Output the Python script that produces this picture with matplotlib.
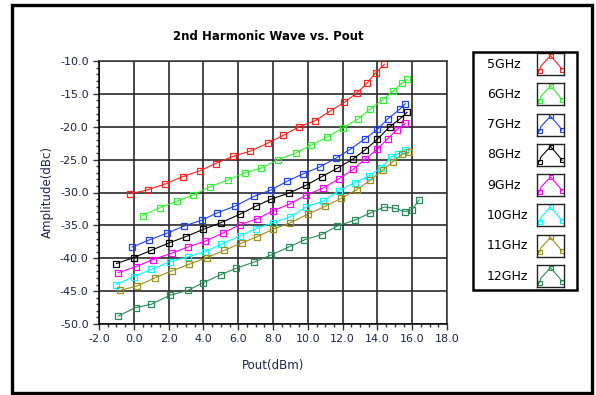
import matplotlib
matplotlib.use("Agg")
import matplotlib.pyplot as plt
from matplotlib.patches import Rectangle
from matplotlib.ticker import MultipleLocator, FormatStrFormatter

# Pout (dBm) and 2nd harmonic amplitude (dBc) per frequency
labels = ['5GHz', '6GHz', '7GHz', '8GHz', '9GHz', '10GHz', '11GHz', '12GHz']
colors = ['#FF2020', '#33EE33', '#2040F0', '#000000', '#FF00FF', '#00FFFF', '#9C8F1A', '#2A8A55']

x_5g = [-0.2, 0.8, 1.8, 2.8, 3.8, 4.7, 5.7, 6.7, 7.7, 8.6, 9.5, 10.4, 11.3, 12.1, 12.8, 13.4, 13.9, 14.4]
y_5g = [-30.2, -29.6, -28.7, -27.6, -26.7, -25.6, -24.5, -23.7, -22.5, -21.3, -20.0, -19.1, -17.6, -16.3, -14.9, -13.4, -11.8, -10.5]

x_6g = [0.5, 1.5, 2.5, 3.4, 4.4, 5.4, 6.4, 7.3, 8.3, 9.3, 10.2, 11.1, 12.0, 12.9, 13.6, 14.3, 14.9, 15.4, 15.7]
y_6g = [-33.5, -32.3, -31.3, -30.4, -29.1, -28.1, -27.0, -26.3, -25.0, -24.0, -22.8, -21.6, -20.2, -18.8, -17.3, -15.9, -14.6, -13.4, -12.8]

x_7g = [-0.1, 0.9, 1.9, 2.9, 3.9, 4.8, 5.8, 6.9, 7.9, 8.8, 9.7, 10.7, 11.6, 12.4, 13.3, 14.0, 14.6, 15.3, 15.6]
y_7g = [-38.3, -37.2, -36.2, -35.1, -34.2, -33.1, -32.1, -30.6, -29.6, -28.3, -27.2, -26.1, -24.8, -23.5, -21.8, -20.4, -18.8, -17.3, -16.5]

x_8g = [-1.0, 0.0, 1.0, 2.0, 3.0, 4.0, 5.0, 6.1, 7.0, 7.9, 8.9, 9.9, 10.8, 11.7, 12.6, 13.3, 14.0, 14.7, 15.3, 15.7]
y_8g = [-40.8, -39.9, -38.8, -37.7, -36.7, -35.6, -34.6, -33.3, -32.1, -31.0, -30.1, -28.9, -27.6, -26.3, -24.9, -23.5, -21.9, -20.0, -18.8, -17.8]

x_9g = [-0.9, 0.1, 1.1, 2.2, 3.1, 4.1, 5.1, 6.1, 7.1, 8.0, 9.0, 9.9, 10.9, 11.8, 12.6, 13.3, 14.0, 14.6, 15.1, 15.6]
y_9g = [-42.2, -41.3, -40.2, -39.2, -38.3, -37.4, -36.2, -34.9, -34.0, -32.8, -31.7, -30.4, -29.3, -27.9, -26.5, -24.9, -23.4, -21.8, -20.5, -19.5]

x_10g = [-1.0, 0.0, 1.0, 2.1, 3.1, 4.1, 5.0, 6.1, 7.0, 8.0, 9.0, 9.9, 10.9, 11.8, 12.7, 13.5, 14.2, 14.8, 15.2, 15.6]
y_10g = [-44.0, -42.8, -41.7, -40.5, -39.8, -39.0, -37.9, -36.6, -35.5, -34.6, -33.7, -32.2, -31.3, -29.7, -28.5, -27.5, -26.3, -24.6, -24.1, -23.5]

x_11g = [-0.8, 0.2, 1.2, 2.2, 3.2, 4.2, 5.2, 6.2, 7.1, 8.0, 9.0, 10.0, 11.0, 11.9, 12.8, 13.6, 14.3, 14.9, 15.4, 15.8]
y_11g = [-44.9, -44.2, -43.0, -41.9, -40.9, -39.9, -38.8, -37.7, -36.7, -35.6, -34.6, -33.3, -32.1, -30.9, -29.6, -28.1, -26.6, -25.3, -24.2, -23.9]

x_12g = [-0.9, 0.1, 1.0, 2.1, 3.1, 4.0, 5.0, 5.9, 6.9, 7.9, 8.9, 9.8, 10.8, 11.7, 12.7, 13.6, 14.4, 15.0, 15.6, 16.0, 16.4]
y_12g = [-48.8, -47.5, -47.0, -45.6, -44.9, -43.7, -42.5, -41.5, -40.6, -39.5, -38.3, -37.2, -36.4, -35.1, -34.2, -33.1, -32.2, -32.4, -32.9, -32.6, -31.1]

xs = [x_5g, x_6g, x_7g, x_8g, x_9g, x_10g, x_11g, x_12g]
ys = [y_5g, y_6g, y_7g, y_8g, y_9g, y_10g, y_11g, y_12g]

W, H = 596, 395
fig = plt.figure(figsize=(W / 100, H / 100), dpi=100)
fig.patch.set_facecolor('white')

# main plot area, placed in pixels
ax = fig.add_axes([99 / W, 1 - 324 / H, 348 / W, 263 / H])
for x, y, c in zip(xs, ys, colors):
    ax.plot(x, y, color=c, lw=0.8, marker='s', ms=3.8, mfc='none', mec=c, mew=0.9)

ax.set_xlim(-2, 18)
ax.set_ylim(-50, -10)
ax.xaxis.set_major_locator(MultipleLocator(2))
ax.xaxis.set_minor_locator(MultipleLocator(0.5))
ax.yaxis.set_major_locator(MultipleLocator(5))
ax.yaxis.set_minor_locator(MultipleLocator(1))
ax.xaxis.set_major_formatter(FormatStrFormatter('%.1f'))
ax.yaxis.set_major_formatter(FormatStrFormatter('%.1f'))
ax.grid(True, which='major', color='#2a2a2a', lw=1.2)
ax.tick_params(which='major', direction='out', length=4, width=1, colors='#333333',
               labelcolor='#1c2448', labelsize=8)
ax.tick_params(which='minor', direction='out', length=2.5, width=1, colors='#333333')
for s in ax.spines.values():
    s.set_color('#333333')
    s.set_linewidth(1.1)
ax.spines['left'].set_color('black')
ax.spines['bottom'].set_color('black')

fig.text(268 / W, 1 - 37 / H, '2nd Harmonic Wave vs. Pout', ha='center', va='center',
         fontsize=8.5, fontweight='bold', color='black')
fig.text(273 / W, 1 - 365 / H, 'Pout(dBm)', ha='center', va='center', fontsize=8.5, color='#1c2448')
fig.text(47 / W, 1 - 192 / H, 'Amplitude(dBc)', ha='center', va='center', rotation=90,
         fontsize=8.5, color='#1c2448')

# outer frame of the picture
fig.patches.append(Rectangle((12 / W, 2 / H), 580 / W, 388 / H, transform=fig.transFigure,
                             fill=False, ec='black', lw=2.4))

# legend panel
fig.patches.append(Rectangle((473 / W, 1 - 290 / H), 104 / W, 238 / H, transform=fig.transFigure,
                             fill=False, ec='black', lw=1.8))
for i, (lab, c) in enumerate(zip(labels, colors)):
    yc = 64 + 30.3 * i
    fig.text(487 / W, 1 - yc / H, lab, ha='left', va='center', fontsize=9, color='black')
    box = fig.add_axes([537 / W, 1 - (yc + 11) / H, 27 / W, 22 / H])
    box.plot([0.1, 0.14, 0.5, 0.84, 0.92], [0.2, 0.4, 0.88, 0.4, 0.25], color=c, lw=0.8,
             marker='s', ms=2.6, mfc='none', mec=c, mew=0.8, markevery=[0, 2, 4])
    box.set_xlim(0, 1)
    box.set_ylim(0, 1)
    box.set_xticks([])
    box.set_yticks([])
    for s in box.spines.values():
        s.set_color('#222222')
        s.set_linewidth(1.0)

fig.savefig('out.png', dpi=100)
